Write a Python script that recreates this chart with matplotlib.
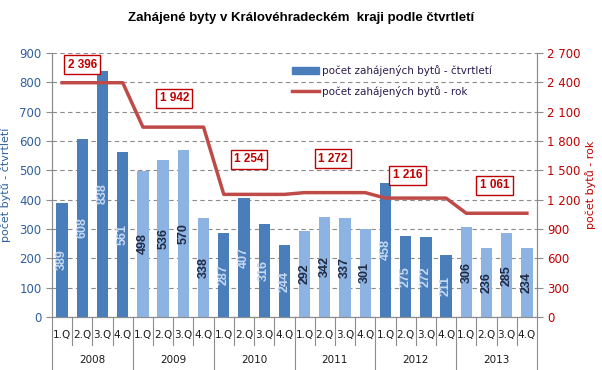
import numpy as np
import matplotlib
matplotlib.use("Agg")
import matplotlib.pyplot as plt
from matplotlib.ticker import FuncFormatter, MultipleLocator
from matplotlib.patches import Patch
from matplotlib.lines import Line2D

# Data
years = ["2008", "2009", "2010", "2011", "2012", "2013"]
quarters = ["1.Q", "2.Q", "3.Q", "4.Q"]
quarterly = [389, 608, 838, 561,
             498, 536, 570, 338,
             287, 407, 316, 244,
             292, 342, 337, 301,
             458, 275, 272, 211,
             306, 236, 285, 234]
annual = [2396, 1942, 1254, 1272, 1216, 1061]

# label placement (style only): x offset within year, pixels above line
label_dx = [1.0, 1.55, 1.25, 1.4, 1.1, 1.4]
label_dy = [18, 29, 35, 34, 23, 28]

dark = "#4A7EBB"
light = "#8DB3E2"
red_line = "#BE4B48"
red_text = "#C00000"
blue_text = "#2F5F9E"

plt.rcParams["font.family"] = "DejaVu Sans"

fig = plt.figure(figsize=(6.02, 3.70), dpi=100)
ax = fig.add_axes([52 / 602, 53 / 370, 485 / 602, 264 / 370])
ax2 = ax.twinx()

n = len(quarterly)
x = np.arange(n)
bar_colors = [dark if (i // 4) % 2 == 0 else light for i in range(n)]
ax.bar(x, quarterly, width=0.56, color=bar_colors, zorder=3)

for i, v in enumerate(quarterly):
    c = "#C6D9F1" if bar_colors[i] == dark else "#1F2A44"
    ax.text(i, v / 2, str(v), rotation=90, ha="center", va="center",
            fontsize=9, fontweight="bold", color=c, zorder=4,
            family="Liberation Sans")

line_y = np.repeat(annual, 4)
ax2.plot(x, line_y, color=red_line, linewidth=2.5, zorder=5)

for k, val in enumerate(annual):
    lx = k * 4 + label_dx[k]
    ax2.annotate(f"{val:,}".replace(",", " "), xy=(lx, val),
                 xytext=(0, label_dy[k]), textcoords="offset pixels",
                 ha="center", va="center", fontsize=8.5, fontweight="bold",
                 color=red_text, family="Liberation Sans",
                 bbox=dict(boxstyle="square,pad=0.3", fc="white",
                           ec=red_text, lw=1.0), zorder=6)

ax.set_xlim(-0.5, n - 0.5)
ax.set_ylim(0, 900)
ax2.set_ylim(0, 2700)
ax.yaxis.set_major_locator(MultipleLocator(100))
ax2.yaxis.set_major_locator(MultipleLocator(300))
ax2.yaxis.set_major_formatter(FuncFormatter(lambda v, p: f"{int(v):,}".replace(",", " ")))

ax.yaxis.grid(True, color="#8C8C8C", linestyle=(0, (4, 3)), linewidth=0.8, zorder=0)
ax.set_axisbelow(True)

for a in (ax, ax2):
    a.spines["top"].set_visible(False)
    for s in ("left", "right", "bottom"):
        a.spines[s].set_color("#8C8C8C")
ax.tick_params(axis="y", colors="#8C8C8C", labelcolor=blue_text, labelsize=8.5,
               length=4)
ax2.tick_params(axis="y", colors="#8C8C8C", labelcolor=red_text, labelsize=8.5,
                length=4)
ax.set_xticks([])

ax.set_ylabel("počet bytů - čtvrtletí", color=blue_text, fontsize=8, labelpad=6)
ax2.set_ylabel("počet bytů - rok", color=red_text, fontsize=8, labelpad=3)

# two-level category axis
tr = ax.get_xaxis_transform()
for b in range(n + 1):
    bottom = -0.2 if b % 4 == 0 else -0.105
    ax.plot([b - 0.5, b - 0.5], [0, bottom], color="#8C8C8C", lw=0.8,
            transform=tr, clip_on=False)
for i in range(n):
    ax.text(i, -0.068, quarters[i % 4], transform=tr, ha="center", va="center",
            fontsize=7.5, color="#1A1A1A")
for k, yr in enumerate(years):
    ax.text(k * 4 + 1.5, -0.163, yr, transform=tr, ha="center", va="center",
            fontsize=7.5, color="#1A1A1A")

handles = [Patch(color=dark), Line2D([0], [0], color=red_line, lw=2.5)]
labels = ["počet zahájených bytů - čtvrtletí", "počet zahájených bytů - rok"]
fig.legend(handles, labels, loc="upper left", bbox_to_anchor=(283 / 602, 1 - 56 / 370),
           frameon=False, fontsize=7.5, labelcolor="#2B1B4F",
           handlelength=2.6, handletextpad=0.2, labelspacing=0.9)

fig.text(0.5, 1 - 18 / 370, "Zahájené byty v Královéhradeckém  kraji podle čtvrtletí",
         ha="center", va="center", fontsize=9.5, fontweight="bold",
         family="Liberation Sans")

fig.savefig("out.png", dpi=100)
